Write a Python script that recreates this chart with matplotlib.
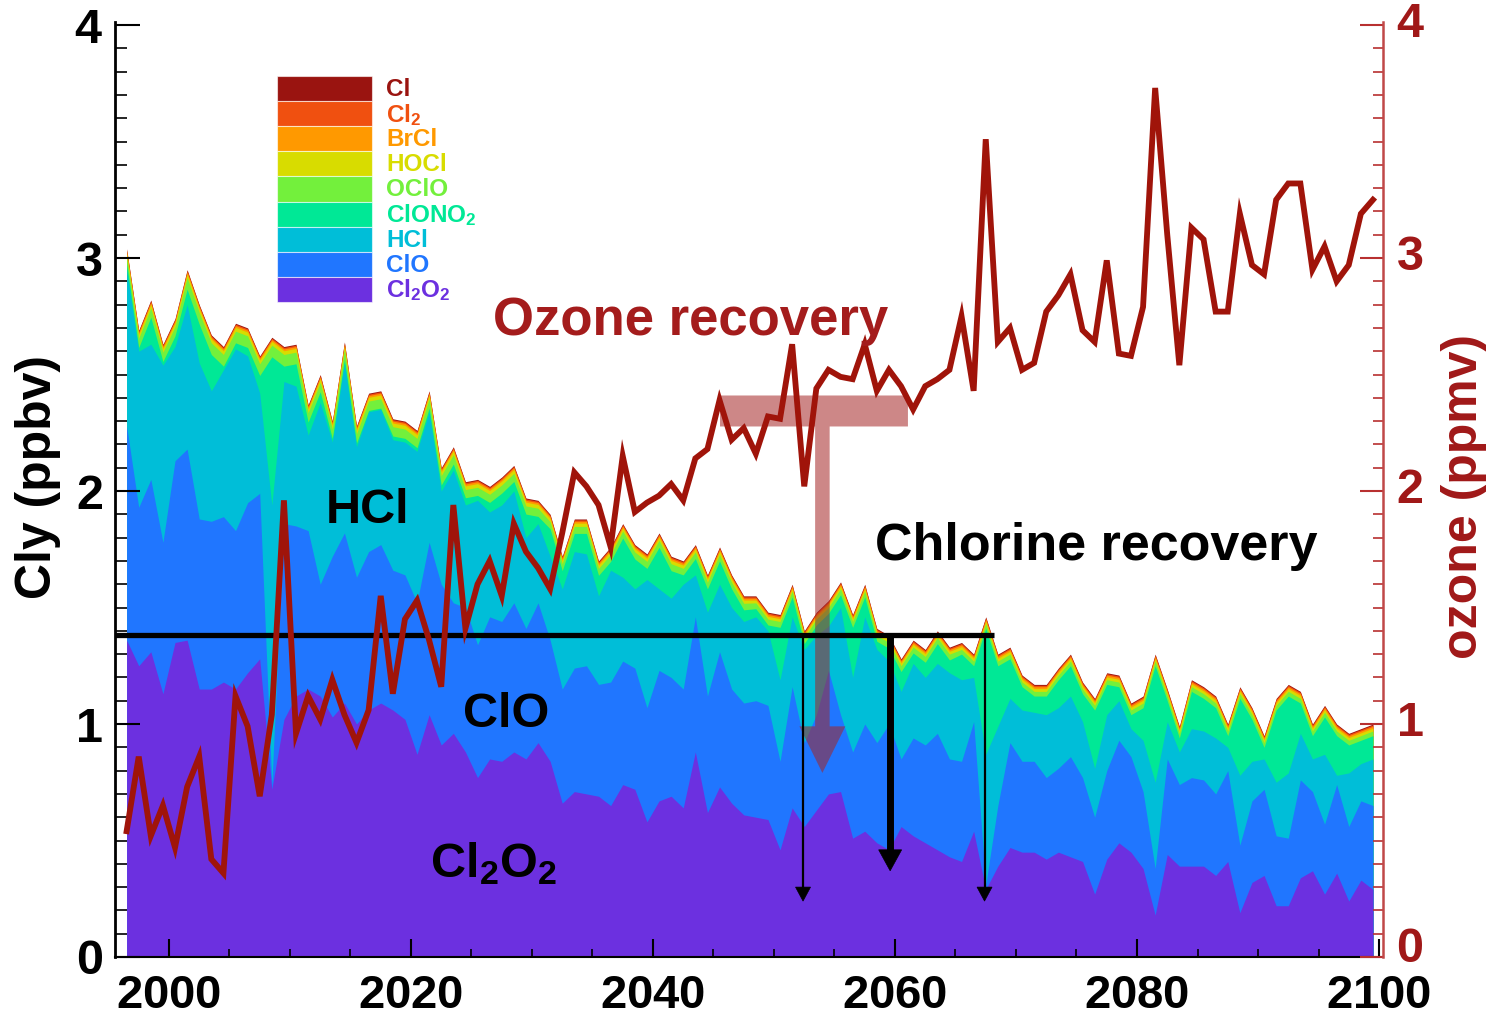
import numpy as np
import matplotlib
matplotlib.use("Agg")
import matplotlib.pyplot as plt
import matplotlib.transforms as mtrans
from matplotlib.patches import Rectangle, Polygon
from matplotlib.ticker import MultipleLocator, FuncFormatter

plt.rcParams['font.family'] = ['Liberation Sans', 'DejaVu Sans']
plt.rcParams['font.weight'] = 'bold'
plt.rcParams['mathtext.fontset'] = 'custom'
plt.rcParams['mathtext.rm'] = 'Liberation Sans:bold'
plt.rcParams['mathtext.it'] = 'Liberation Sans:bold'
plt.rcParams['mathtext.bf'] = 'Liberation Sans:bold'
plt.rcParams['mathtext.sf'] = 'Liberation Sans:bold'

# ---------------- data ----------------
years = np.arange(1996, 2100) + 0.5   # annual values 1996.5 ... 2099.5

# total Cly (top of the stack), ppbv
cly_total = [
    3.04, 2.69, 2.82, 2.63, 2.74, 2.95, 2.80, 2.67, 2.62, 2.72, 2.70, 2.58, 2.66, 2.62, 2.63, 2.37, 2.50,
    2.30, 2.64, 2.28, 2.42, 2.43, 2.31, 2.30, 2.26, 2.43, 2.10, 2.19, 2.04, 2.05, 2.02, 2.06, 2.11, 1.97, 1.96,
    1.90, 1.72, 1.88, 1.88, 1.70, 1.76, 1.86, 1.77, 1.73, 1.82, 1.72, 1.70, 1.77, 1.64, 1.76, 1.64, 1.55,
    1.55, 1.48, 1.47, 1.60, 1.40, 1.48, 1.53, 1.61, 1.47, 1.60, 1.41, 1.38, 1.28, 1.36, 1.32, 1.40, 1.33,
    1.35, 1.30, 1.46, 1.30, 1.33, 1.21, 1.17, 1.17, 1.24, 1.30, 1.18, 1.11, 1.22, 1.21, 1.09, 1.12, 1.30, 1.15,
    0.99, 1.19, 1.16, 1.12, 1.00, 1.16, 1.07, 0.95, 1.11, 1.17, 1.14, 1.00, 1.08, 1.00, 0.96, 0.98, 1.00]

# cumulative level at the top of HCl (Cl2O2 + ClO + HCl)
hcl_top = [
    2.95, 2.60, 2.63, 2.54, 2.62, 2.80, 2.55, 2.43, 2.52, 2.61, 2.58, 2.42, 1.94, 2.47, 2.45, 2.24, 2.38,
    2.21, 2.55, 2.19, 2.34, 2.35, 2.22, 2.21, 2.17, 2.34, 2.00, 2.09, 1.94, 1.96, 1.91, 1.94, 2.00, 1.80, 1.86,
    1.72, 1.58, 1.74, 1.73, 1.55, 1.66, 1.63, 1.58, 1.62, 1.58, 1.54, 1.60, 1.64, 1.48, 1.60, 1.50, 1.44,
    1.46, 1.40, 1.19, 1.46, 1.32, 1.38, 1.42, 1.50, 1.20, 1.46, 1.32, 1.27, 1.14, 1.26, 1.20, 1.26, 1.22,
    1.19, 1.20, 0.87, 0.99, 1.11, 1.06, 1.05, 1.04, 1.07, 1.12, 1.01, 0.81, 1.04, 1.10, 0.98, 0.93, 0.75, 1.01,
    0.88, 0.98, 0.97, 0.94, 0.90, 0.78, 0.84, 0.85, 0.75, 0.79, 0.96, 0.85, 0.87, 0.78, 0.79, 0.83, 0.85]

# cumulative level at the top of ClO (Cl2O2 + ClO)
clo_top = [
    2.28, 1.93, 2.05, 1.78, 2.13, 2.18, 1.88, 1.87, 1.89, 1.83, 1.95, 1.99, 0.74, 1.86, 1.85, 1.83, 1.60,
    1.72, 1.82, 1.63, 1.74, 1.77, 1.66, 1.64, 1.52, 1.78, 1.60, 1.52, 1.50, 1.34, 1.46, 1.44, 1.52, 1.41, 1.52,
    1.36, 1.15, 1.24, 1.25, 1.17, 1.18, 1.27, 1.24, 1.07, 1.23, 1.20, 1.15, 1.46, 1.12, 1.31, 1.15, 1.09,
    1.10, 1.08, 0.84, 1.16, 0.92, 1.04, 1.23, 1.04, 0.88, 1.00, 0.92, 1.00, 0.85, 0.94, 0.91, 0.96, 0.85,
    0.84, 1.01, 0.31, 0.65, 0.92, 0.84, 0.84, 0.77, 0.81, 0.86, 0.77, 0.60, 0.80, 0.93, 0.86, 0.71, 0.38, 0.85,
    0.74, 0.77, 0.76, 0.70, 0.80, 0.48, 0.67, 0.72, 0.52, 0.51, 0.76, 0.71, 0.57, 0.74, 0.56, 0.67, 0.65]

# Cl2O2
cl2o2 = [
    1.36, 1.25, 1.31, 1.13, 1.35, 1.36, 1.15, 1.15, 1.18, 1.15, 1.22, 1.28, 0.72, 1.02, 1.12, 1.15, 1.12,
    1.03, 1.09, 1.00, 1.06, 1.09, 1.06, 1.02, 0.87, 1.04, 0.91, 0.96, 0.88, 0.77, 0.85, 0.84, 0.88, 0.85, 0.92,
    0.84, 0.66, 0.71, 0.70, 0.69, 0.65, 0.74, 0.72, 0.58, 0.67, 0.69, 0.64, 0.88, 0.62, 0.73, 0.66, 0.61,
    0.60, 0.59, 0.46, 0.64, 0.56, 0.63, 0.70, 0.71, 0.51, 0.54, 0.49, 0.46, 0.56, 0.52, 0.49, 0.46, 0.43,
    0.41, 0.54, 0.29, 0.39, 0.47, 0.45, 0.45, 0.42, 0.45, 0.43, 0.41, 0.27, 0.42, 0.49, 0.45, 0.38, 0.18, 0.44,
    0.39, 0.39, 0.39, 0.35, 0.41, 0.19, 0.32, 0.35, 0.22, 0.22, 0.34, 0.37, 0.27, 0.36, 0.24, 0.33, 0.29]

# thin top species
oclo = [
    0.03, 0.04, 0.04, 0.04, 0.04, 0.05, 0.05, 0.05, 0.05, 0.05, 0.05, 0.05, 0.05, 0.05, 0.05, 0.04, 0.04,
    0.04, 0.04, 0.04, 0.04, 0.04, 0.04, 0.04, 0.04, 0.04, 0.04, 0.04, 0.035, 0.035, 0.035, 0.035, 0.035, 0.035, 0.035,
    0.03, 0.03, 0.03, 0.03, 0.03, 0.03, 0.03, 0.03, 0.03, 0.03, 0.03, 0.028, 0.028, 0.028, 0.028, 0.028, 0.028,
    0.025, 0.025, 0.025, 0.025, 0.025, 0.025, 0.025, 0.025, 0.025, 0.025, 0.025, 0.025, 0.025, 0.025, 0.025, 0.025, 0.025,
    0.02, 0.02, 0.02, 0.02, 0.02, 0.02, 0.02, 0.02, 0.02, 0.02, 0.02, 0.02, 0.02, 0.02, 0.02, 0.02, 0.02, 0.02,
    0.02, 0.02, 0.02, 0.02, 0.02, 0.02, 0.02, 0.02, 0.02, 0.02, 0.02, 0.02, 0.02, 0.02, 0.02, 0.02, 0.02]
hocl = [
    0.016, 0.016, 0.016, 0.016, 0.016, 0.016, 0.016, 0.016, 0.016, 0.016, 0.016, 0.016, 0.016, 0.016, 0.016, 0.016, 0.016,
    0.016, 0.016, 0.016, 0.016, 0.016, 0.016, 0.016, 0.016, 0.016, 0.016, 0.016, 0.016, 0.016, 0.016, 0.016, 0.016, 0.016, 0.016,
    0.014, 0.014, 0.014, 0.014, 0.014, 0.014, 0.014, 0.014, 0.014, 0.014, 0.014, 0.014, 0.014, 0.014, 0.014, 0.014, 0.014,
    0.012, 0.012, 0.012, 0.012, 0.012, 0.012, 0.012, 0.012, 0.012, 0.012, 0.012, 0.012, 0.012, 0.012, 0.012, 0.012, 0.012,
    0.012, 0.012, 0.012, 0.012, 0.012, 0.012, 0.012, 0.012, 0.012, 0.012, 0.012, 0.012, 0.012, 0.012, 0.012, 0.012, 0.012, 0.012,
    0.012, 0.012, 0.012, 0.012, 0.012, 0.012, 0.012, 0.012, 0.012, 0.012, 0.012, 0.012, 0.012, 0.012, 0.012, 0.012, 0.012]
brcl = [
    0.008, 0.008, 0.008, 0.008, 0.008, 0.008, 0.008, 0.008, 0.008, 0.008, 0.008, 0.008, 0.008, 0.008, 0.008, 0.008, 0.008,
    0.008, 0.008, 0.008, 0.008, 0.008, 0.008, 0.008, 0.008, 0.008, 0.008, 0.008, 0.008, 0.008, 0.008, 0.008, 0.008, 0.008, 0.008,
    0.008, 0.008, 0.008, 0.008, 0.008, 0.008, 0.008, 0.008, 0.008, 0.008, 0.008, 0.008, 0.008, 0.008, 0.008, 0.008, 0.008,
    0.008, 0.008, 0.008, 0.008, 0.008, 0.008, 0.008, 0.008, 0.008, 0.008, 0.008, 0.008, 0.008, 0.008, 0.008, 0.008, 0.008,
    0.008, 0.008, 0.008, 0.008, 0.008, 0.008, 0.008, 0.008, 0.008, 0.008, 0.008, 0.008, 0.008, 0.008, 0.008, 0.008, 0.008, 0.008,
    0.008, 0.008, 0.008, 0.008, 0.008, 0.008, 0.008, 0.008, 0.008, 0.008, 0.008, 0.008, 0.008, 0.008, 0.008, 0.008, 0.008]
cl2 = [
    0.006, 0.006, 0.006, 0.006, 0.006, 0.006, 0.006, 0.006, 0.006, 0.006, 0.006, 0.006, 0.006, 0.006, 0.006, 0.006, 0.006,
    0.006, 0.006, 0.006, 0.006, 0.006, 0.006, 0.006, 0.006, 0.006, 0.006, 0.006, 0.006, 0.006, 0.006, 0.006, 0.006, 0.006, 0.006,
    0.006, 0.006, 0.006, 0.006, 0.006, 0.006, 0.006, 0.006, 0.006, 0.006, 0.006, 0.006, 0.006, 0.006, 0.006, 0.006, 0.006,
    0.006, 0.006, 0.006, 0.006, 0.006, 0.006, 0.006, 0.006, 0.006, 0.006, 0.006, 0.006, 0.006, 0.006, 0.006, 0.006, 0.006,
    0.006, 0.006, 0.006, 0.006, 0.006, 0.006, 0.006, 0.006, 0.006, 0.006, 0.006, 0.006, 0.006, 0.006, 0.006, 0.006, 0.006, 0.006,
    0.006, 0.006, 0.006, 0.006, 0.006, 0.006, 0.006, 0.006, 0.006, 0.006, 0.006, 0.006, 0.006, 0.006, 0.006, 0.006, 0.006]
cl = [
    0.004, 0.004, 0.004, 0.004, 0.004, 0.004, 0.004, 0.004, 0.004, 0.004, 0.004, 0.004, 0.004, 0.004, 0.004, 0.004, 0.004,
    0.004, 0.004, 0.004, 0.004, 0.004, 0.004, 0.004, 0.004, 0.004, 0.004, 0.004, 0.004, 0.004, 0.004, 0.004, 0.004, 0.004, 0.004,
    0.004, 0.004, 0.004, 0.004, 0.004, 0.004, 0.004, 0.004, 0.004, 0.004, 0.004, 0.004, 0.004, 0.004, 0.004, 0.004, 0.004,
    0.004, 0.004, 0.004, 0.004, 0.004, 0.004, 0.004, 0.004, 0.004, 0.004, 0.004, 0.004, 0.004, 0.004, 0.004, 0.004, 0.004,
    0.004, 0.004, 0.004, 0.004, 0.004, 0.004, 0.004, 0.004, 0.004, 0.004, 0.004, 0.004, 0.004, 0.004, 0.004, 0.004, 0.004, 0.004,
    0.004, 0.004, 0.004, 0.004, 0.004, 0.004, 0.004, 0.004, 0.004, 0.004, 0.004, 0.004, 0.004, 0.004, 0.004, 0.004, 0.004]

# ozone, ppmv (right axis)
ozone = [
    0.54, 0.86, 0.52, 0.65, 0.47, 0.73, 0.86, 0.42, 0.36, 1.12, 0.99, 0.69, 1.04, 1.96, 0.96, 1.12, 1.02,
    1.19, 1.04, 0.92, 1.06, 1.55, 1.13, 1.45, 1.53, 1.36, 1.16, 1.94, 1.41, 1.60, 1.70, 1.55, 1.86, 1.74, 1.67,
    1.58, 1.82, 2.08, 2.02, 1.94, 1.76, 2.15, 1.91, 1.95, 1.98, 2.03, 1.96, 2.14, 2.18, 2.39, 2.22, 2.27,
    2.16, 2.32, 2.31, 2.63, 2.02, 2.44, 2.52, 2.49, 2.48, 2.63, 2.43, 2.52, 2.45, 2.35, 2.45, 2.48, 2.52,
    2.75, 2.43, 3.51, 2.64, 2.70, 2.52, 2.55, 2.77, 2.84, 2.93, 2.69, 2.64, 2.99, 2.59, 2.58, 2.79, 3.73, 3.10,
    2.54, 3.13, 3.08, 2.77, 2.77, 3.19, 2.97, 2.93, 3.25, 3.32, 3.32, 2.95, 3.05, 2.90, 2.97, 3.19, 3.25]

species_names = ['Cl$_2$O$_2$', 'ClO', 'HCl', 'ClONO$_2$', 'OClO', 'HOCl', 'BrCl', 'Cl$_2$', 'Cl']
species_colors = ['#6c30e0', '#2076ff', '#00bed8', '#00e896', '#73f03c',
                  '#d8dc00', '#ff9900', '#f05010', '#9a1410']

left_ticks = [0, 1, 2, 3, 4]
right_ticks = [0, 1, 2, 3, 4]
x_ticks = [2000, 2020, 2040, 2060, 2080, 2100]

# ---------------- derive the stack ----------------
cl2o2_a = np.array(cl2o2)
clo_a = np.array(clo_top) - cl2o2_a
hcl_a = np.array(hcl_top) - np.array(clo_top)
thin = np.array(oclo) + np.array(hocl) + np.array(brcl) + np.array(cl2) + np.array(cl)
clono2_a = np.clip(np.array(cly_total) - np.array(hcl_top) - thin, 0, None)
layers = [cl2o2_a, clo_a, hcl_a, clono2_a, np.array(oclo), np.array(hocl),
          np.array(brcl), np.array(cl2), np.array(cl)]
cum = np.cumsum(np.vstack(layers), axis=0)

# ---------------- figure ----------------
W, H = 1492, 1018
fig = plt.figure(figsize=(W / 100, H / 100), dpi=100)


def fx(x):
    return x / W


def fy(y):
    return 1 - y / H


# digits drawn through mathtext get ink-tight boxes (no empty descent area)
tick_fmt = FuncFormatter(lambda v, pos: r'$\mathbf{%d}$' % int(round(v)))

ax = fig.add_axes([fx(115), fy(957), (1383 - 115) / W, (957 - 22) / H])
XL = (1995.54, 2100.33)
YL = (0, 4.013)
ax.set_xlim(*XL)
ax.set_ylim(*YL)

for k in range(len(layers) - 1, -1, -1):
    ax.fill_between(years, 0, cum[k], color=species_colors[k], lw=0, zorder=1)

# Chlorine recovery level line and arrows
level = 1.38
ax.plot([XL[0], 2068.2], [level, level], color='k', lw=3.8, solid_capstyle='butt', zorder=4)
for xa, tip, kind in [(2052.4, 0.24, 'thin'), (2059.6, 0.37, 'thick'), (2067.4, 0.24, 'thin')]:
    if kind == 'thin':
        hl, hw, lw = 0.06, 0.62, 1.6
    else:
        hl, hw, lw = 0.09, 0.95, 5.0
    ax.plot([xa, xa], [level, tip + hl * 0.9], color='k', lw=lw, solid_capstyle='butt', zorder=4)
    ax.add_patch(Polygon([(xa - hw, tip + hl), (xa + hw, tip + hl), (xa, tip)],
                         closed=True, facecolor='k', edgecolor='k', lw=0.5, zorder=4))

# translucent T-shaped arrow (ozone recovery -> chlorine level)
tee = [(2045.54, 2.41), (2061.07, 2.41), (2061.07, 2.277), (2054.6, 2.277),
       (2054.6, 0.99), (2055.9, 0.99), (2054.0, 0.79), (2052.1, 0.99),
       (2053.4, 0.99), (2053.4, 2.277), (2045.54, 2.277)]
ax.add_patch(Polygon(tee, closed=True, facecolor=(164 / 255, 37 / 255, 37 / 255),
                     edgecolor='none', alpha=0.55, zorder=3))

# axes styling (left/bottom)
for s in ['top', 'right']:
    ax.spines[s].set_visible(False)
ax.spines['left'].set_linewidth(2.0)
ax.spines['bottom'].set_linewidth(1.5)
ax.set_yticks(left_ticks)
ax.yaxis.set_minor_locator(MultipleLocator(0.1))
ax.yaxis.set_major_formatter(tick_fmt)
ax.set_xticks(x_ticks)
ax.xaxis.set_minor_locator(MultipleLocator(5))
ax.xaxis.set_major_formatter(tick_fmt)
ax.tick_params(axis='y', which='major', direction='in', length=18, width=1.5,
               labelsize=35, pad=9, right=False)
ax.tick_params(axis='y', which='minor', direction='in', length=8.5, width=1.2, right=False)
ax.tick_params(axis='x', which='major', direction='in', length=13, width=1.5,
               labelsize=34, pad=12, top=False)
ax.tick_params(axis='x', which='minor', direction='in', length=6, width=1.2, top=False)

# right axis with ozone
ax2 = ax.twinx()
ax2.set_ylim(*YL)
ax2.set_xlim(*XL)
ax2.plot(years, ozone, color='#a0140a', lw=4.2, solid_joinstyle='miter', zorder=5)
for s in ['top', 'left', 'bottom']:
    ax2.spines[s].set_visible(False)
ax2.spines['right'].set_color('#c04848')
ax2.spines['right'].set_linewidth(1.8)
ax2.set_yticks(right_ticks)
ax2.yaxis.set_minor_locator(MultipleLocator(0.1))
ax2.yaxis.set_major_formatter(tick_fmt)
ax2.tick_params(axis='y', which='major', direction='in', length=16.5, width=1.5,
                color='#b83030', labelcolor='#a01818', labelsize=35, pad=9)
ax2.tick_params(axis='y', which='minor', direction='in', length=7, width=1.2, color='#b83030')

# the right-hand labels sit a few pixels higher than the left ones in the reference;
# the bottom one a little more so it clears the "2100" label
for i, lab in enumerate(ax2.get_yticklabels()):
    dy = 13 if i == 0 else 6
    lab.set_transform(lab.get_transform() +
                      mtrans.ScaledTranslation(0, dy / 100, fig.dpi_scale_trans))

# axis titles
fig.text(fx(38), fy(477), 'Cly (ppbv)', rotation=90, ha='center', va='center',
         fontsize=36, fontweight='bold', color='k')
fig.text(fx(1464), fy(497), 'ozone (ppmv)', rotation=90, ha='center', va='center',
         fontsize=36, fontweight='bold', color='#a01818')

# annotations
fig.text(fx(493), fy(335), 'Ozone recovery', ha='left', va='baseline',
         fontsize=38, fontweight='bold', color='#a41c1c')
fig.text(fx(875), fy(560), 'Chlorine recovery', ha='left', va='baseline',
         fontsize=37.5, fontweight='bold', color='k')
fig.text(fx(326), fy(523), 'HCl', ha='left', va='baseline', fontsize=35, fontweight='bold', color='k')
fig.text(fx(463), fy(727), 'ClO', ha='left', va='baseline', fontsize=35, fontweight='bold', color='k')
fig.text(fx(430), fy(877), 'Cl$_2$O$_2$', ha='left', va='baseline', fontsize=35,
         fontweight='bold', color='k')

# legend (top entry = Cl ... bottom entry = Cl2O2)
leg_left, leg_right, leg_top, leg_bot = 277, 372, 76, 302
row_h = (leg_bot - leg_top) / len(species_names)
for r, k in enumerate(range(len(species_names) - 1, -1, -1)):
    y0 = leg_top + r * row_h
    fig.patches.append(Rectangle((fx(leg_left), fy(y0 + row_h)), (leg_right - leg_left) / W,
                                 row_h / H, transform=fig.transFigure,
                                 facecolor=species_colors[k], edgecolor=(1, 1, 1, 0.6),
                                 lw=0.8, zorder=6))
    fig.text(fx(386), fy(y0 + row_h / 2 + 1), species_names[k], ha='left', va='center',
             fontsize=17.5, fontweight='bold', color=species_colors[k], zorder=7)

fig.savefig('out.png', dpi=100)
